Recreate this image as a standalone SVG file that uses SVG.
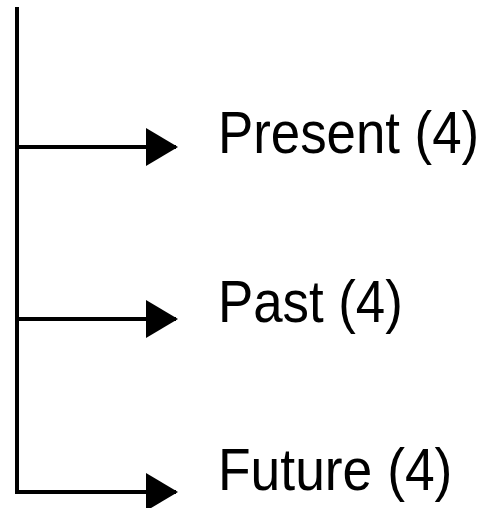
<svg xmlns="http://www.w3.org/2000/svg" width="492" height="508" viewBox="0 0 492 508">
<style>
.ln{stroke:#000;stroke-width:4;fill:none}
.lbl{font-family:"Liberation Sans","DejaVu Sans",sans-serif;font-size:60px;fill:#000}
</style>
<defs>
<marker id="ah" markerUnits="userSpaceOnUse" markerWidth="34" markerHeight="40" refX="30" refY="20" orient="auto">
<path d="M0,1 L32,20 L0,39 Z" fill="#000"/>
</marker>
</defs>
<rect width="492" height="508" fill="#fff"/>
<g id="connectors">
<line class="ln" x1="17" y1="7" x2="17" y2="494"/>
<line class="ln" x1="17" y1="147" x2="176" y2="147" marker-end="url(#ah)"/>
<line class="ln" x1="17" y1="319" x2="176" y2="319" marker-end="url(#ah)"/>
<line class="ln" x1="17" y1="492" x2="176" y2="492" marker-end="url(#ah)"/>
</g>
<g id="present" transform="translate(218,153) scale(0.88,1)"><text class="lbl" x="0" y="0">Present (4)</text></g>
<g id="past" transform="translate(218,322) scale(0.88,1)"><text class="lbl" x="0" y="0">Past (4)</text></g>
<g id="future" transform="translate(218,490) scale(0.89,1)"><text class="lbl" x="0" y="0">Future (4)</text></g>
</svg>
